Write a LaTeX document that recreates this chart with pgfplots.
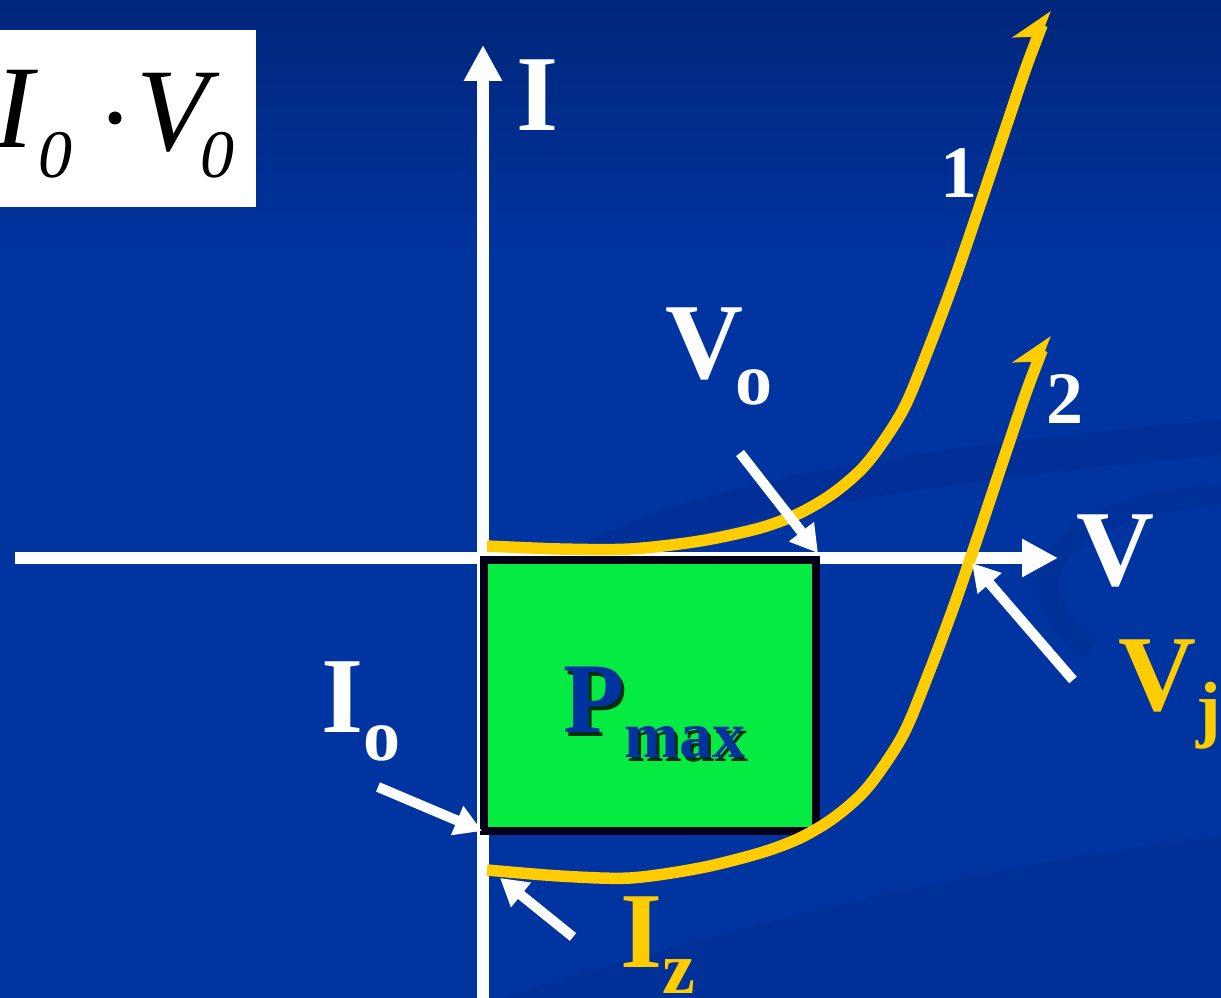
\documentclass[border=0pt]{standalone}
\usepackage{pgfplots}
\pgfplotsset{compat=1.18}
\usetikzlibrary{arrows.meta}
\usepackage{fontspec}
\setmainfont{Liberation Serif}
\definecolor{bgtop}{HTML}{00267A}
\definecolor{bgmain}{HTML}{0034A0}
\definecolor{swoosh}{HTML}{002A85}
\definecolor{yel}{HTML}{FFCC00}
\definecolor{grn}{HTML}{05EB41}
\definecolor{ptxt}{HTML}{0033A0}
\newcommand{\bigf}{\fontsize{108}{108}\selectfont\bfseries}
\newcommand{\subf}{\fontsize{74}{74}\selectfont\bfseries}
\newcommand{\pf}{\fontsize{100}{100}\selectfont\bfseries}
\newcommand{\pmf}{\fontsize{66}{66}\selectfont\bfseries}
\begin{document}
\begin{tikzpicture}
\begin{axis}[width=1221pt, height=998pt, scale only axis,
  xmin=0, xmax=1221, ymin=0, ymax=998, y dir=reverse,
  hide axis, clip=true]
% background
\fill[bgmain] (axis cs:0,0) rectangle (axis cs:1221,998);
\fill[top color=bgtop, bottom color=bgmain] (axis cs:0,0) rectangle (axis cs:1221,260);
% faint swooshes
\fill[swoosh, opacity=0.3] (axis cs:560,556) .. controls (axis cs:700,470) and (axis cs:1000,440) .. (axis cs:1221,420) -- (axis cs:1221,455) .. controls (axis cs:1000,475) and (axis cs:760,505) .. (axis cs:640,556) -- cycle;
\draw[swoosh, opacity=0.25, line width=22pt] (axis cs:1221,495) .. controls (axis cs:1060,505) and (axis cs:1000,580) .. (axis cs:1090,650);
\fill[swoosh, opacity=0.25] (axis cs:500,998) .. controls (axis cs:800,905) and (axis cs:1000,865) .. (axis cs:1221,835) -- (axis cs:1221,998) -- cycle;
% I0 V0 box
\fill[white] (axis cs:0,30) rectangle (axis cs:256,207);
\node[anchor=base west, inner sep=0pt, black] at (axis cs:-6,148) {\fontsize{118}{118}\selectfont\itshape I};
\node[anchor=base west, inner sep=0pt, black] at (axis cs:38,178) {\fontsize{68}{68}\selectfont\itshape 0};
\fill[black] (axis cs:115,118) circle[radius=6.5pt];
\node[anchor=base west, inner sep=0pt, black] at (axis cs:136,150) {\fontsize{118}{118}\selectfont\itshape V};
\node[anchor=base west, inner sep=0pt, black] at (axis cs:200,178) {\fontsize{68}{68}\selectfont\itshape 0};
% axes
\addplot[white, line width=12pt, -{Triangle[length=36pt,width=36pt]}] coordinates {(483,1010) (483,45)};
\addplot[white, line width=12pt, -{Triangle[length=36pt,width=36pt]}] coordinates {(15,558) (1058,558)};
% Pmax rectangle
\addplot[draw=black!90!blue, line width=8pt, fill=grn] coordinates {(484,560) (816,560) (816,831) (484,831)} -- cycle;
% curves
\addplot[yel, line width=11.5pt, smooth, -{Stealth[harpoon, length=34pt, width=46pt, inset=10pt]}] coordinates {
(487,546) (560,549) (630,549) (700,541) (760,528) (800,513) (835,492) (868,462) (903,410) (930,345) (955,278) (980,205) (1005,130) (1027,65) (1048,10)};
\addplot[yel, line width=11.5pt, smooth, -{Stealth[harpoon, length=34pt, width=46pt, inset=10pt]}] coordinates {
(487,870) (560,876) (630,878) (700,868) (760,853) (800,838) (835,817) (868,787) (903,735) (930,670) (955,603) (980,530) (1005,455) (1027,390) (1048,335)};
% pointer arrows
\draw[white, line width=10pt, -{Triangle[length=27pt,width=30pt]}] (axis cs:740,453) -- (axis cs:818,553);
\draw[white, line width=10pt, -{Triangle[length=27pt,width=30pt]}] (axis cs:1073,680) -- (axis cs:972,563);
\draw[white, line width=10pt, -{Triangle[length=27pt,width=30pt]}] (axis cs:378,787) -- (axis cs:482,831);
\draw[white, line width=10pt, -{Triangle[length=27pt,width=30pt]}] (axis cs:573,937) -- (axis cs:500,878);
% labels
\node[anchor=base, inner sep=0pt, white] at (axis cs:538,131) {\bigf I};
\node[anchor=base, inner sep=0pt, white] at (axis cs:1115,585) {\bigf V};
\node[anchor=base, inner sep=0pt, white] at (axis cs:959,197) {\subf 1};
\node[anchor=base, inner sep=0pt, white] at (axis cs:1065,423) {\subf 2};
\node[anchor=base west, inner sep=0pt, white] at (axis cs:665,378) {\bigf V\kern-8pt\raisebox{-26pt}{\subf o}};
\node[anchor=base west, inner sep=0pt, white] at (axis cs:321,732) {\bigf I\raisebox{-28pt}{\subf o}};
\node[anchor=base west, inner sep=0pt, yel] at (axis cs:1118,710) {\bigf V\raisebox{-23pt}{\subf j}};
\node[anchor=base west, inner sep=0pt, yel] at (axis cs:620,967) {\bigf I\raisebox{-26pt}{\subf z}};
\node[anchor=base west, inner sep=0pt, black, opacity=0.8] at (axis cs:566,736) {\pf P\raisebox{-25pt}{\pmf max}};
\node[anchor=base west, inner sep=0pt, ptxt] at (axis cs:563,732) {\pf P\raisebox{-25pt}{\pmf max}};
\end{axis}
\pgfresetboundingbox
\path[use as bounding box] (current axis.south west) rectangle (current axis.north east);
\end{tikzpicture}
\end{document}
